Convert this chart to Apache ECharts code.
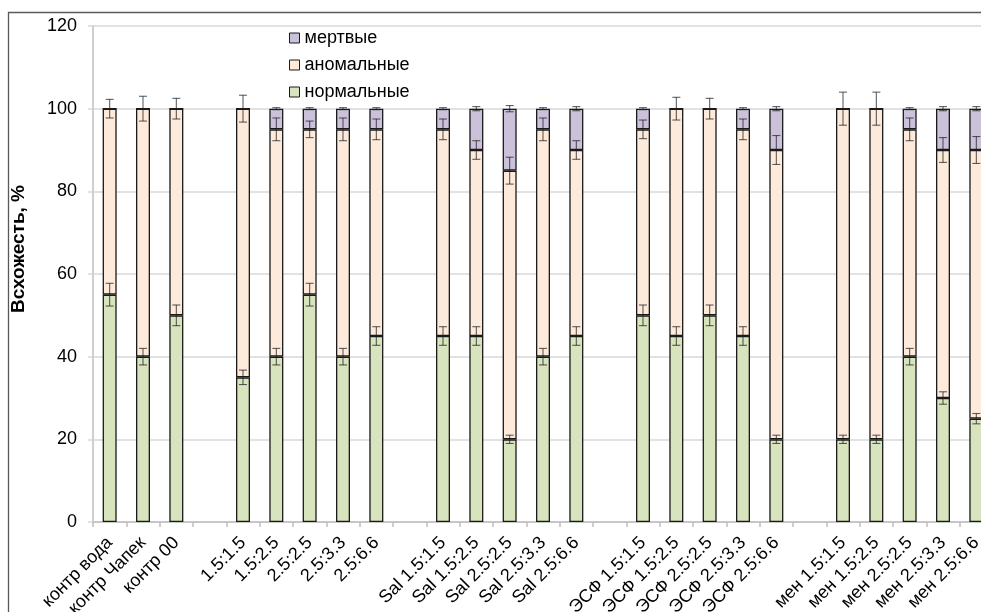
<!DOCTYPE html>
<html>
<head>
<meta charset="utf-8">
<script src="https://cdn.jsdelivr.net/npm/echarts@6/dist/echarts.min.js"></script>
<style>
  html, body { margin: 0; padding: 0; background: #fff; }
  #chart { width: 981px; height: 612px; }
</style>
</head>
<body>
<div id="chart"></div>
<script>
// Seedling germination by treatment, % (empty labels are spacer slots between groups)
var categories = ['контр вода', 'контр Чапек', 'контр 00', '',
  '1.5:1.5', '1.5:2.5', '2.5:2.5', '2.5:3.3', '2.5:6.6', '',
  'Sal 1.5:1.5', 'Sal 1.5:2.5', 'Sal 2.5:2.5', 'Sal 2.5:3.3', 'Sal 2.5:6.6', '',
  'ЭСФ 1.5:1.5', 'ЭСФ 1.5:2.5', 'ЭСФ 2.5:2.5', 'ЭСФ 2.5:3.3', 'ЭСФ 2.5:6.6', '',
  'мен 1.5:1.5', 'мен 1.5:2.5', 'мен 2.5:2.5', 'мен 2.5:3.3', 'мен 2.5:6.6'];

var normal  = [55, 40, 50, null, 35, 40, 55, 40, 45, null, 45, 45, 20, 40, 45, null, 50, 45, 50, 45, 20, null, 20, 20, 40, 30, 25];
var anomal  = [45, 60, 50, null, 65, 55, 40, 55, 50, null, 50, 45, 65, 55, 45, null, 45, 55, 50, 50, 70, null, 80, 80, 55, 60, 65];
var dead    = [0, 0, 0, null, 0, 5, 5, 5, 5, null, 5, 10, 15, 5, 10, null, 5, 0, 0, 5, 10, null, 0, 0, 5, 10, 10];

// error bar half-widths for each segment
var normalErr = [2.75, 2, 2.5, null, 1.75, 2, 2.75, 2, 2.25, null, 2.25, 2.25, 1, 2, 2.25, null, 2.5, 2.25, 2.5, 2.25, 1, null, 1, 1, 2, 1.5, 1.25];
var anomalErr = [2.25, 3, 2.5, null, 3.25, 2.75, 2, 2.75, 2.5, null, 2.5, 2.25, 3.25, 2.75, 2.25, null, 2.25, 2.75, 2.5, 2.5, 3.5, null, 4, 4, 2.75, 3, 3.25];
var deadErr   = [null, null, null, null, null, 0.25, 0.25, 0.25, 0.25, null, 0.25, 0.5, 0.75, 0.25, 0.5, null, 0.25, null, null, 0.25, 0.5, null, null, null, 0.25, 0.5, 0.5];

var yTicks = { min: 0, max: 120, step: 20 };

var names = { dead: 'мертвые', anomal: 'аномальные', normal: 'нормальные' };
var colors = { normal: '#d7e4bd', anomal: '#fdeada', dead: '#ccc1da' };

// error bars sit on the top of each stacked segment
var errData = [];
for (var i = 0; i < categories.length; i++) {
  if (normal[i] == null) continue;
  var c1 = normal[i], c2 = normal[i] + anomal[i], c3 = c2 + dead[i];
  if (normalErr[i] != null) errData.push([i, c1 - normalErr[i], c1 + normalErr[i]]);
  if (anomalErr[i] != null) errData.push([i, c2 - anomalErr[i], c2 + anomalErr[i]]);
  if (deadErr[i] != null) errData.push([i, c3 - deadErr[i], c3 + deadErr[i]]);
}

function toBar(arr) {
  return arr.map(function (v) { return v == null ? '-' : v; });
}

var font = 'Liberation Sans, Arial, sans-serif';
var barStyle = function (col) {
  return { color: col, borderColor: '#1a1a1a', borderWidth: 1.3 };
};

var chart = echarts.init(document.getElementById('chart'), null, { renderer: 'canvas' });
chart.setOption({
  animation: false,
  backgroundColor: '#fff',
  // plot area runs past the right edge; labels may overflow the bottom
  grid: { left: 93, top: 26, width: 900, height: 496, containLabel: false, outerBoundsMode: 'none' },
  legend: {
    orient: 'vertical',
    left: 289, top: 29, padding: 0,
    itemWidth: 10, itemHeight: 10, itemGap: 9, itemTextGap: 6,
    icon: 'rect',
    data: [names.dead, names.anomal, names.normal],
    textStyle: { fontFamily: font, fontSize: 18, color: '#000', lineHeight: 18 },
    itemStyle: { borderColor: '#1a1a1a', borderWidth: 1 }
  },
  xAxis: {
    type: 'category',
    data: categories,
    axisLine: { lineStyle: { color: '#bfbfbf', width: 1.5 } },
    axisTick: { show: true, length: 5, lineStyle: { color: '#bfbfbf', width: 1.5 } },
    axisLabel: { interval: 0, rotate: 45, margin: 18, fontFamily: font, fontSize: 18, color: '#000' }
  },
  yAxis: {
    type: 'value',
    min: yTicks.min, max: yTicks.max, interval: yTicks.step,
    axisLine: { show: true, lineStyle: { color: '#bfbfbf', width: 1.5 } },
    axisTick: { show: true, length: 5, lineStyle: { color: '#d9d9d9', width: 1.5 } },
    splitLine: { lineStyle: { color: '#d9d9d9', width: 1.5 } },
    axisLabel: { margin: 16, fontFamily: font, fontSize: 18, color: '#000' }
  },
  graphic: [
    {
      type: 'rect', silent: true, z: 100,
      shape: { x: 8.5, y: 12.5, width: 1200, height: 800 },
      style: { fill: 'none', stroke: '#595959', lineWidth: 1.3 }
    },
    {
      type: 'text', silent: true,
      x: 19, y: 249, rotation: Math.PI / 2,
      style: {
        text: 'Всхожесть, %', fontFamily: font, fontSize: 19, fontWeight: 'bold',
        fill: '#000', align: 'center', verticalAlign: 'middle'
      }
    }
  ],
  series: [
    { name: names.normal, type: 'bar', stack: 'g', barWidth: 14, data: toBar(normal), itemStyle: barStyle(colors.normal) },
    { name: names.anomal, type: 'bar', stack: 'g', barWidth: 14, data: toBar(anomal), itemStyle: barStyle(colors.anomal) },
    { name: names.dead, type: 'bar', stack: 'g', barWidth: 14, data: toBar(dead), itemStyle: barStyle(colors.dead) },
    {
      type: 'custom', z: 10, silent: true,
      data: errData,
      encode: { x: 0, y: [1, 2] },
      renderItem: function (params, api) {
        var x = api.value(0);
        var lo = api.coord([x, api.value(1)]);
        var hi = api.coord([x, api.value(2)]);
        var hw = 4;
        var st = { stroke: 'rgba(30,30,30,0.7)', lineWidth: 1.1 };
        return {
          type: 'group',
          children: [
            { type: 'line', shape: { x1: lo[0], y1: lo[1], x2: hi[0], y2: hi[1] }, style: st },
            { type: 'line', shape: { x1: lo[0] - hw, y1: lo[1], x2: lo[0] + hw, y2: lo[1] }, style: st },
            { type: 'line', shape: { x1: hi[0] - hw, y1: hi[1], x2: hi[0] + hw, y2: hi[1] }, style: st }
          ]
        };
      }
    }
  ]
});
</script>
</body>
</html>
